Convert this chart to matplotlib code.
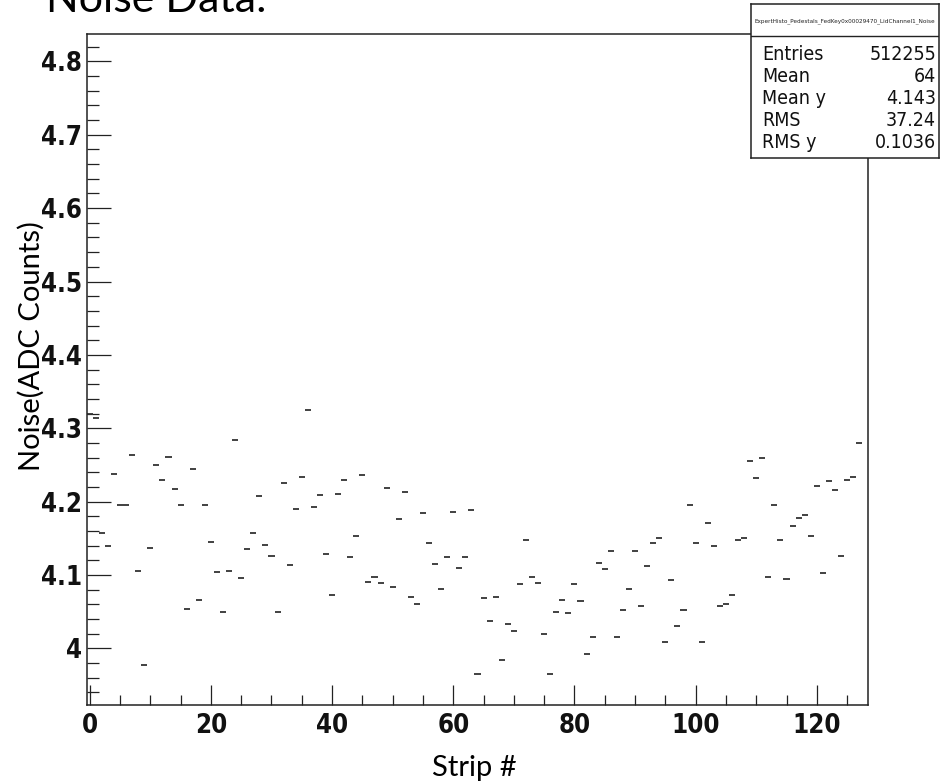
import matplotlib.pyplot as plt
from matplotlib.ticker import MultipleLocator, FixedLocator, FixedFormatter
import numpy as np

#####################################################
# pedestal noise per strip --->

strip = np.arange(128)
noise = np.array([
	4.320, 4.314, 4.157, 4.139, 4.238, 4.196, 4.196, 4.263, 4.105, 3.977,
	4.137, 4.250, 4.230, 4.261, 4.217, 4.195, 4.054, 4.244, 4.066, 4.195,
	4.145, 4.104, 4.050, 4.105, 4.284, 4.096, 4.136, 4.157, 4.207, 4.141,
	4.126, 4.050, 4.225, 4.114, 4.190, 4.234, 4.325, 4.192, 4.209, 4.128,
	4.072, 4.211, 4.230, 4.124, 4.153, 4.236, 4.091, 4.097, 4.089, 4.219,
	4.083, 4.176, 4.213, 4.070, 4.060, 4.184, 4.143, 4.115, 4.081, 4.124,
	4.186, 4.110, 4.124, 4.188, 3.965, 4.068, 4.037, 4.070, 3.984, 4.033,
	4.023, 4.087, 4.147, 4.097, 4.089, 4.019, 3.965, 4.050, 4.066, 4.048,
	4.087, 4.064, 3.992, 4.015, 4.116, 4.108, 4.132, 4.016, 4.052, 4.081,
	4.132, 4.058, 4.112, 4.143, 4.151, 4.008, 4.093, 4.031, 4.052, 4.196,
	4.143, 4.008, 4.171, 4.139, 4.058, 4.060, 4.072, 4.147, 4.151, 4.255,
	4.232, 4.259, 4.097, 4.196, 4.147, 4.095, 4.167, 4.178, 4.182, 4.153,
	4.221, 4.103, 4.228, 4.216, 4.126, 4.230, 4.234, 4.280])

yticks = [4.0, 4.1, 4.2, 4.3, 4.4, 4.5, 4.6, 4.7, 4.8]
ytick_labels = ['4', '4.1', '4.2', '4.3', '4.4', '4.5', '4.6', '4.7', '4.8']
xticks = [0, 20, 40, 60, 80, 100, 120]

hist_name = 'ExpertHisto_Pedestals_FedKey0x00029470_LidChannel1_Noise'
stat_names = ['Entries', 'Mean', 'Mean y', 'RMS', 'RMS y']
stat_values = ['512255', '64', '4.143', '37.24', '0.1036']

# <--- pedestal noise per strip
#####################################################

# narrow sans for the ROOT canvas, humanist sans for the slide text
root_font = ['Noto Sans Condensed', 'DejaVu Sans']
slide_font = ['Lato', 'DejaVu Sans']
ink = '#222222'

fig = plt.figure(figsize=(9.41, 7.84), dpi=100)
W, H = 941., 784.

def px_axes(x0, y0, x1, y1):
	# pixel box (top-left origin) -> figure fraction rect
	return [x0/W, 1 - y1/H, (x1 - x0)/W, (y1 - y0)/H]

#############################
# NOISE PROFILE --->

ax = fig.add_axes(px_axes(86.7, 34.3, 868.3, 705))

# one flat segment per strip, bin wide
ax.hlines(noise, strip - 0.5, strip + 0.5, color='#333333', lw=1.3)

ax.set_xlim(-0.5, 128.5)
ax.set_ylim(3.9227, 4.837)

ax.xaxis.set_major_locator(FixedLocator(xticks))
ax.xaxis.set_minor_locator(MultipleLocator(5))
ax.yaxis.set_major_locator(FixedLocator(yticks))
ax.yaxis.set_major_formatter(FixedFormatter(ytick_labels))
ax.yaxis.set_minor_locator(MultipleLocator(0.02))

ax.tick_params(axis='both', which='both', direction='in', color=ink,
	width=0.9, top=False, right=False)
ax.tick_params(axis='y', which='major', length=17, pad=3.5)
ax.tick_params(axis='y', which='minor', length=8.5)
ax.tick_params(axis='x', which='major', length=14.5, pad=5.5)
ax.tick_params(axis='x', which='minor', length=7.2)

for lab in ax.get_xticklabels() + ax.get_yticklabels():
	lab.set_family(root_font)
	lab.set_fontstretch('condensed')
	lab.set_fontweight('bold')
	lab.set_fontsize(18.5)
	lab.set_color('#111111')

for sp in ax.spines.values():
	sp.set_linewidth(1.1)
	sp.set_color(ink)

# axis titles and slide heading
fig.text(474.5/W, 1 - 768/H, 'Strip #', ha='center', va='center',
	fontsize=21, family=slide_font)
fig.text(31/W, 1 - 346/H, 'Noise(ADC Counts)', ha='center', va='center',
	rotation=90, fontsize=21, family=slide_font)
fig.text(46/W, 1 - 11.7/H, 'Noise Data:', ha='left', va='baseline',
	fontsize=31, family=slide_font)

# <--- NOISE PROFILE
#############################

#############################
# STATS BOX --->

x0, y0, x1, y1 = 751, 4, 939, 158
axs = fig.add_axes(px_axes(x0, y0, x1, y1))
axs.set_xlim(x0, x1)
axs.set_ylim(y1, y0)
axs.set_xticks([])
axs.set_yticks([])
axs.set_facecolor('white')
for sp in axs.spines.values():
	sp.set_linewidth(1.1)
	sp.set_color(ink)

axs.axhline(36, color=ink, lw=1.0)
axs.text((x0 + x1)/2., 21, hist_name, ha='center', va='center',
	fontsize=4.6, family=root_font, stretch='condensed', color=ink)

for k, (nm, val) in enumerate(zip(stat_names, stat_values)):
	yb = 60 + 22*k
	axs.text(762, yb, nm, ha='left', va='baseline', fontsize=14,
		family=root_font, stretch='condensed', color='#111111')
	axs.text(936, yb, val, ha='right', va='baseline', fontsize=14,
		family=root_font, stretch='condensed', color='#111111')

# <--- STATS BOX
#############################

fig.savefig('out.png', dpi=100)
